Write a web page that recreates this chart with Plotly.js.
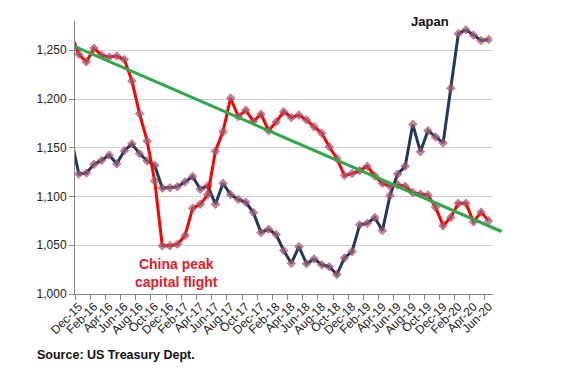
<!DOCTYPE html>
<html>
<head>
<meta charset="utf-8">
<script src="https://cdn.plot.ly/plotly-3.0.1.min.js"></script>
<style>html,body{margin:0;padding:0;background:#fff;}#chart{width:586px;height:384px;}</style>
</head>
<body>
<div id="chart"></div>
<script>
// Monthly holdings of US Treasuries, $bn (first month lies just left of the visible axis)
var months = ["Nov-15","Dec-15","Jan-16","Feb-16","Mar-16","Apr-16","May-16","Jun-16","Jul-16","Aug-16","Sep-16","Oct-16","Nov-16","Dec-16",
  "Jan-17","Feb-17","Mar-17","Apr-17","May-17","Jun-17","Jul-17","Aug-17","Sep-17","Oct-17","Nov-17","Dec-17",
  "Jan-18","Feb-18","Mar-18","Apr-18","May-18","Jun-18","Jul-18","Aug-18","Sep-18","Oct-18","Nov-18","Dec-18",
  "Jan-19","Feb-19","Mar-19","Apr-19","May-19","Jun-19","Jul-19","Aug-19","Sep-19","Oct-19","Nov-19","Dec-19",
  "Jan-20","Feb-20","Mar-20","Apr-20","May-20","Jun-20"];

var china = [1266,1246,1238,1252,1245,1243,1244,1240.5,1218.5,1185,1157,1116,1049.5,1049.5,
  1051,1060,1088,1092,1102,1146.5,1166.5,1201,1182,1188.5,1177,1184.5,
  1167.5,1176.5,1187,1181,1183.5,1178.5,1171.5,1165,1151,1139,1121.5,1123.5,
  1126.5,1131,1121,1113.5,1110.5,1112,1110.5,1104,1102.5,1101.5,1089,1070,
  1078.5,1093,1093,1074,1084,1075];

var japan = [1160,1123,1124,1133,1137,1142.5,1133.5,1147,1154,1144,1136.5,1132,1108.5,1109,
  1110,1115,1120.5,1107.5,1111,1092,1113.5,1102,1097,1094,1083.5,1063,
  1066.5,1061,1044.5,1031.5,1048.5,1031,1036,1030,1028,1020,1037,1043.5,
  1071,1072.5,1078.5,1065,1101,1123,1131,1174,1146,1167.5,1161,1155,
  1211,1267,1271,1265.5,1260,1261];

// Linear trend of China's holdings (end points; extends one period past Jun-20)
var trendPos = [-0.5, 55.7];
var trendY = [1253.6, 1064.1];

var tickLabels = ["Dec-15","Feb-16","Apr-16","Jun-16","Aug-16","Oct-16","Dec-16","Feb-17","Apr-17","Jun-17","Aug-17","Oct-17",
  "Dec-17","Feb-18","Apr-18","Jun-18","Aug-18","Oct-18","Dec-18","Feb-19","Apr-19","Jun-19","Aug-19","Oct-19",
  "Dec-19","Feb-20","Apr-20","Jun-20"];

var yTicks = [1000,1050,1100,1150,1200,1250];

// index positions: Dec-15 = 0
var xIdx = months.map(function(m,i){ return i - 1; });
var labelPos = tickLabels.map(function(l){ return months.indexOf(l) - 1; });
var boundaryPos = labelPos.map(function(p){ return p - 0.5; });
var markerSizes = months.map(function(m,i){ return i === 0 ? 0 : 6.5; });

var FONT = "Liberation Sans, Arial, sans-serif";
var markerStyle = {symbol:"diamond", size:markerSizes, color:"#8a6684", line:{color:"#e0202a", width:1}};

var plotW = 586 - 75 - 81;
var mainFrac = 417.5 / plotW;
var nCat = 55;

var traces = [
  {x:xIdx, y:japan, type:"scatter", mode:"lines+markers", name:"Japan",
   line:{color:"#1f3a60", width:3}, marker:markerStyle, xaxis:"x", yaxis:"y", hoverinfo:"skip"},
  {x:xIdx, y:china, type:"scatter", mode:"lines+markers", name:"China",
   line:{color:"#ff0000", width:3}, marker:markerStyle, xaxis:"x3", yaxis:"y", hoverinfo:"skip"},
  {x:trendPos, y:trendY, type:"scatter", mode:"lines", name:"Trend",
   line:{color:"#2ea84a", width:3}, xaxis:"x2", yaxis:"y2", hoverinfo:"skip"}
];

var layout = {
  width:586, height:384,
  margin:{l:75, r:81, t:21, b:90},
  paper_bgcolor:"#ffffff", plot_bgcolor:"rgba(0,0,0,0)",
  showlegend:false,
  font:{family:FONT, size:12, color:"#222"},
  xaxis:{domain:[0, mainFrac], range:[-0.5, nCat-0.5], anchor:"y",
    tickmode:"array", tickvals:labelPos, ticktext:tickLabels, tickangle:-45,
    ticks:"", showgrid:false, zeroline:false, showline:true, linecolor:"#868686", linewidth:1,
    tickfont:{family:FONT, size:12, color:"#222"}},
  xaxis3:{domain:[0, mainFrac], range:[-0.5, nCat-0.5], anchor:"y", overlaying:"x",
    tickmode:"array", tickvals:boundaryPos, ticks:"outside", ticklen:5, tickcolor:"#868686",
    showticklabels:false, showgrid:false, zeroline:false, showline:false},
  xaxis2:{domain:[0, 1], range:[-0.5, -0.5 + nCat / mainFrac], anchor:"y2", visible:false,
    showgrid:false, zeroline:false},
  yaxis:{domain:[0,1], range:[1000,1280], anchor:"x", tickmode:"array", tickvals:yTicks, tickformat:",",
    ticks:"outside", ticklen:5, tickcolor:"#868686", showline:true, linecolor:"#868686", linewidth:1,
    showgrid:true, gridcolor:"#c9d2dc", gridwidth:1, zeroline:false,
    tickfont:{family:FONT, size:12, color:"#222"}},
  yaxis2:{domain:[0,1], range:[1000,1280], anchor:"x2", visible:false, showgrid:false, zeroline:false},
  annotations:[
    {text:"<b>Japan</b>", xref:"x", yref:"paper", x:46.3, y:1.0, xanchor:"center", yanchor:"middle",
     showarrow:false, font:{family:FONT, size:13, color:"#111"}},
    {text:"<b>China peak<br>capital flight</b>", xref:"x", yref:"y", x:12.9, y:1022, xanchor:"center", yanchor:"middle",
     showarrow:false, font:{family:FONT, size:14, color:"#e0202a"}},
    {text:"<b>Source: US Treasury Dept.</b>", xref:"paper", yref:"paper", x:-0.093, y:-0.223,
     xanchor:"left", yanchor:"middle", showarrow:false, font:{family:FONT, size:12.5, color:"#111"}}
  ]
};

Plotly.newPlot("chart", traces, layout, {staticPlot:true, displayModeBar:false});
</script>
</body>
</html>
